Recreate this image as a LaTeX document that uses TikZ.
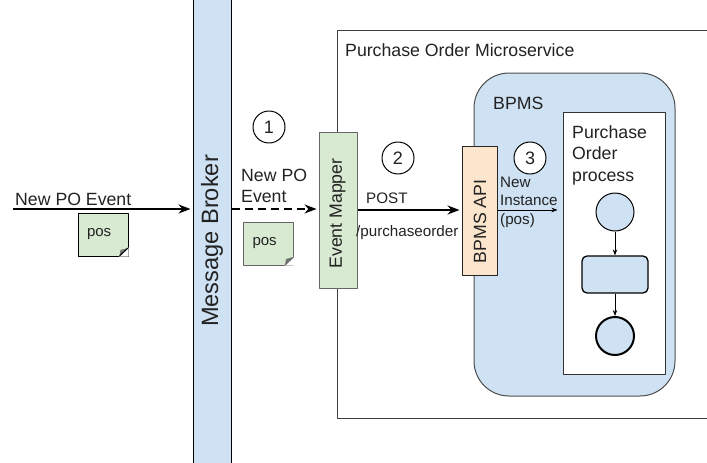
\documentclass[tikz,border=0pt]{standalone}
\usepackage{fontspec}
\setmainfont{Liberation Sans}
\usetikzlibrary{arrows.meta}
\definecolor{blueFill}{HTML}{CFE2F3}
\definecolor{greenFill}{HTML}{D9EAD3}
\definecolor{orangeFill}{HTML}{FCE5CD}
\definecolor{inkGray}{HTML}{222222}
\tikzset{
	txt/.style={inner sep=0pt,text=inkGray,font=\fontsize{17.7}{21.5}\selectfont,align=left},
	smalltxt/.style={inner sep=0pt,text=inkGray,font=\fontsize{15.2}{18.5}\selectfont,align=left},
	boxv/.style={draw,line width=1pt,rotate=90,inner sep=0pt},
	notebox/.style={rectangle,fill=greenFill,line width=1pt,minimum height=43pt,inner xsep=9pt,inner ysep=0pt,text width=32pt,align=left,
		text=inkGray,font=\fontsize{15}{18}\selectfont},
	stepnum/.style={draw,circle,line width=1pt,minimum size=32pt,inner sep=0pt,font=\fontsize{18}{20}\selectfont,text=inkGray},
	flow/.style={-{Stealth[length=12pt,width=9pt]},line width=1.6pt,shorten >=2pt},
	thinflow/.style={-{Stealth[length=6pt,width=4.5pt]},line width=.7pt}
}
\begin{document}
\begin{tikzpicture}[x=1pt,y=-1pt,line join=round]
	\useasboundingbox (0,0) rectangle (707,463);
	% containers
	\coordinate (mstop) at (707,30);
	\coordinate (msbot) at (707,418);
	\draw[line width=1pt,draw=black!75] (mstop)--(337,30)--(337,418)--(msbot);
	\node[txt,anchor=base west] (mslabel) at (345,56) {Purchase Order Microservice};
	\node[draw=black!70,fill=blueFill,line width=1pt,rounded corners=35pt,minimum width=201pt,minimum height=323pt,inner sep=0pt] (bpms) at (574.5,234.5) {};
	\node[txt,anchor=base west] (bpmslabel) at (493,109) {BPMS};
	\node[draw=black!80,fill=white,line width=1pt,minimum width=102pt,minimum height=262pt,inner sep=0pt] (process) at (614,243) {};
	\node[txt,anchor=west] (processlabel) at (572,155) {Purchase\\Order\\process};
	% bars
	\node[boxv,fill=blueFill,minimum width=465pt,minimum height=38pt] (broker) at (212,231.5) {};
	\node[rotate=90,inner sep=0pt,text=inkGray,font=\fontsize{23.6}{26}\selectfont] (brokerlabel) at (212,241) {Message Broker};
	\node[boxv,draw=black!60,fill=greenFill,minimum width=156pt,minimum height=38pt] (mapper) at (338,210) {};
	\node[rotate=90,txt] (mapperlabel) at (337.5,213.5) {Event Mapper};
	\node[boxv,draw=black!85,fill=orangeFill,minimum width=129pt,minimum height=35pt] (api) at (479.5,210.5) {};
	\node[rotate=90,txt] (apilabel) at (480,221.5) {BPMS API};
	% process
	\node[draw,circle,fill=blueFill,line width=1pt,minimum size=38pt,inner sep=0pt] (startev) at (615,212) {};
	\node[draw,fill=blueFill,line width=1.3pt,rounded corners=5pt,minimum width=66pt,minimum height=37pt,inner sep=0pt] (task) at (615,274.5) {};
	\node[draw,circle,fill=blueFill,line width=2pt,minimum size=38pt,inner sep=0pt] (endev) at (615,336) {};
	\draw[thinflow] (startev)--(task);
	\draw[thinflow] (task)--(endev);
	% notes
	\foreach \name/\xc/\yc/\col in {notea/103/234.5/black,noteb/268.5/243.5/black!60}
	{
		\node[notebox,draw=\col] (\name) at (\xc,\yc) {pos};
		\fill[white] (\xc+25.5,\yc+13)--(\xc+25.5,\yc+22)--(\xc+16,\yc+22)--cycle;
		\fill[black!55] (\xc+25,\yc+13.5)--(\xc+17.5,\yc+15.5)--(\xc+16.5,\yc+21.5)--cycle;
		\draw[\col,line width=1pt] (\xc+25,\yc+13.5)--(\xc+16.5,\yc+21.5);
	}
	% steps
	\node[stepnum] (stepa) at (269,127) {1};
	\node[stepnum] (stepb) at (398,158) {2};
	\node[stepnum,fill=white] (stepc) at (530,158) {3};
	% arrows
	\coordinate (evstart) at (13,209);
	\draw[flow] (evstart)--(broker.north |- evstart);
	\draw[flow,dashed,dash pattern=on 8pt off 5pt,line width=1.3pt] (broker.south |- evstart)--(mapper.north |- evstart);
	\draw[flow] (mapper.south |- 0,210)--(api.north |- 0,210);
	\draw[thinflow,shorten >=5pt] (api.south |- 0,210)--(process.west |- 0,210);
	% labels
	\node[txt,anchor=base west] (evlabel) at (15,205) {New PO Event};
	\node[txt,anchor=west] (polabel) at (241,186) {New PO\\Event};
	\node[smalltxt,anchor=base west] (postlabel) at (366,203) {POST};
	\node[smalltxt,anchor=base west] (pathlabel) at (356,236) {/purchaseorder};
	\node[smalltxt,anchor=west] (instlabel) at (500,202) {New\\Instance\\(pos)};
\end{tikzpicture}
\end{document}
